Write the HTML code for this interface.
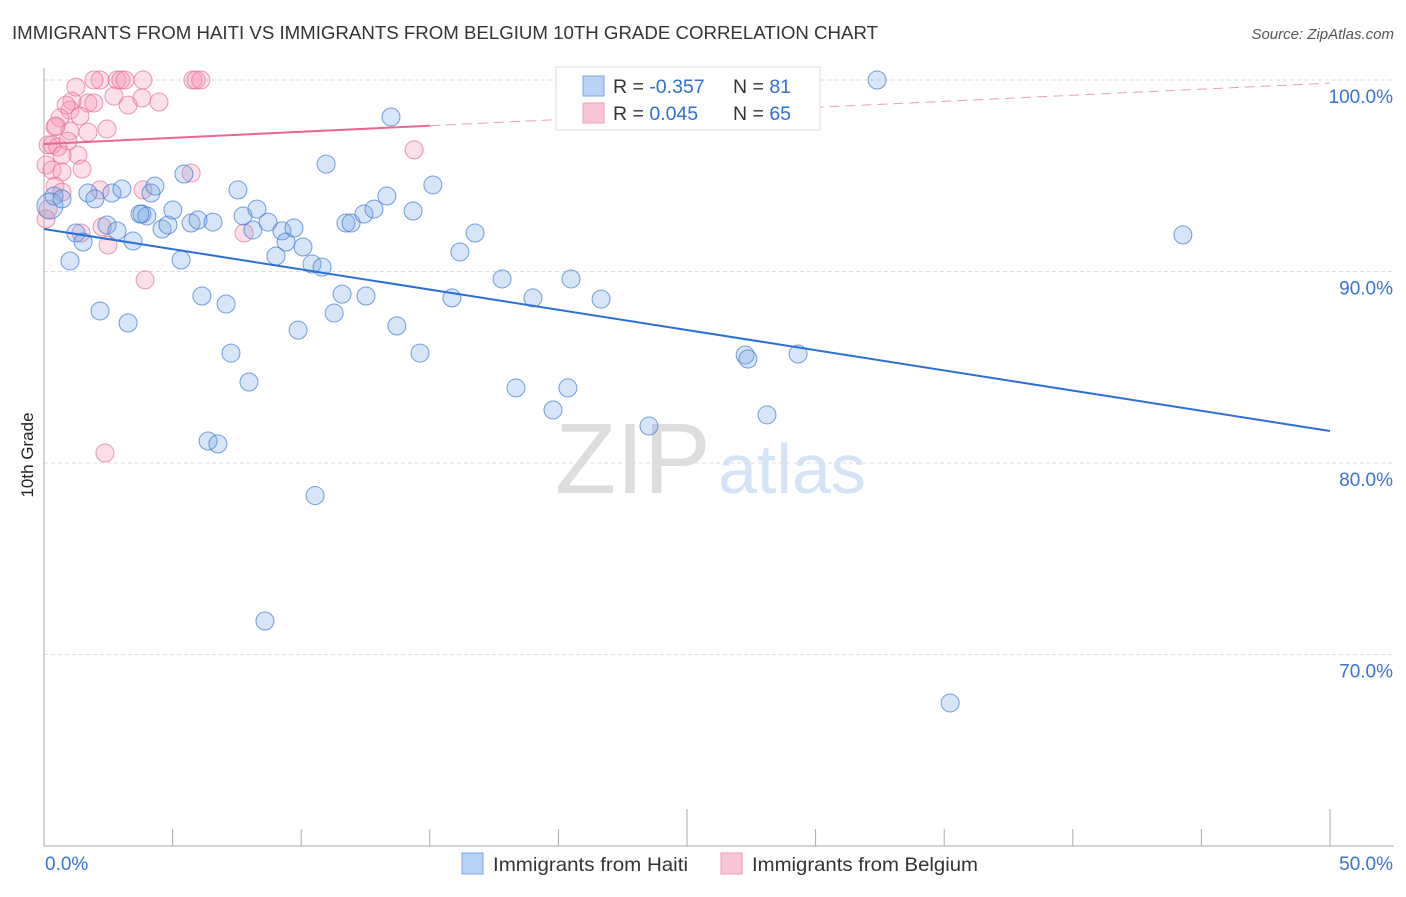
<!DOCTYPE html>
<html><head><meta charset="utf-8"><style>
body{margin:0;background:#fff;font-family:"Liberation Sans",sans-serif}
svg text{font-family:"Liberation Sans",sans-serif}
</style></head><body>
<svg id="c" width="1406" height="892">
<text x="12" y="39" font-size="18" fill="#333" textLength="866" lengthAdjust="spacingAndGlyphs">IMMIGRANTS FROM HAITI VS IMMIGRANTS FROM BELGIUM 10TH GRADE CORRELATION CHART</text>
<text x="1394" y="39" font-size="15" fill="#555" font-style="italic" text-anchor="end">Source: ZipAtlas.com</text>
<text transform="translate(33,455) rotate(-90)" font-size="17" fill="#222" text-anchor="middle">10th Grade</text>
<text x="555" y="493" font-size="100" fill="#ddd" font-family="Liberation Serif">ZIP</text>
<text x="718" y="493" font-size="70" fill="#d4e3f5">atlas</text>
<g id="grid"></g><g id="axes"></g><g id="pts"></g><g id="trend"></g>
<g>
<rect x="556" y="67" width="264" height="63" fill="#fff" stroke="#ddd"/>
<rect x="583" y="76" width="21" height="20" fill="#b8d3f5" stroke="#7aa6e0"/>
<rect x="583" y="103" width="21" height="20" fill="#fac6d6" stroke="#ec9bb5"/>
<text x="613" y="93" font-size="19.5" fill="#333">R = <tspan fill="#2f6fd0">-0.357</tspan></text>
<text x="733" y="93" font-size="19.5" fill="#333">N = <tspan fill="#2f6fd0">81</tspan></text>
<text x="613" y="120" font-size="19.5" fill="#333">R = <tspan fill="#2f6fd0"> 0.045</tspan></text>
<text x="733" y="120" font-size="19.5" fill="#333">N = <tspan fill="#2f6fd0">65</tspan></text>
</g>
<g>
<rect x="462" y="853" width="21" height="21" fill="#b8d3f5" stroke="#7aa6e0"/>
<text x="493" y="871" font-size="19.5" fill="#333" textLength="195" lengthAdjust="spacingAndGlyphs">Immigrants from Haiti</text>
<rect x="721" y="853" width="21" height="21" fill="#fac6d6" stroke="#ec9bb5"/>
<text x="752" y="871" font-size="19.5" fill="#333" textLength="226" lengthAdjust="spacingAndGlyphs">Immigrants from Belgium</text>
</g>
</svg>
<script>
const yTicks=[100,90,80,70];
const yTickLabels=["100.0%","90.0%","80.0%","70.0%"];
const xTickLabels=["0.0%","50.0%"];
const haitiX=[0.39,0.23,0.7,1.01,1.24,1.52,1.71,1.98,2.18,2.45,2.64,2.84,3.03,3.27,3.46,3.81,4.0,4.16,4.31,4.59,4.82,5.01,5.33,5.44,5.72,5.99,6.14,6.38,6.57,6.76,7.08,7.27,7.54,7.74,7.97,8.12,8.28,8.71,9.02,9.25,9.41,9.72,9.88,10.07,10.42,10.54,10.81,10.97,11.28,11.59,11.74,11.94,12.44,12.52,12.83,13.33,13.49,13.72,14.35,14.62,15.12,15.86,16.17,16.76,17.81,18.35,19.01,19.79,20.37,20.49,21.66,23.52,27.26,27.37,28.11,29.32,32.39,35.23,44.28,8.59,3.73];
const haitiY=[93.94,93.42,93.79,90.55,92.01,91.54,94.1,93.79,87.94,92.43,94.1,92.12,94.31,87.31,91.59,93.0,92.9,94.1,94.46,92.22,92.43,93.21,90.6,95.09,92.53,92.69,88.72,81.15,92.58,81.0,88.3,85.74,94.26,92.9,84.23,92.17,93.26,92.58,90.81,92.12,91.54,92.27,86.94,91.28,90.39,78.3,90.23,95.61,87.83,88.82,92.53,92.53,93.0,88.72,93.26,93.94,98.07,87.16,93.16,85.74,94.52,88.62,91.02,92.01,89.61,83.92,88.62,82.77,83.92,89.61,88.56,81.93,85.64,85.43,82.51,85.69,100.0,67.47,91.91,71.75,93.0];
const belgX=[1.09,2.18,2.84,2.99,3.15,3.85,5.79,5.91,6.1,1.94,1.24,1.71,1.94,2.72,3.27,3.81,4.47,2.45,1.01,0.86,0.62,0.43,0.16,0.31,0.54,0.08,0.31,0.7,1.32,1.48,1.01,0.93,1.71,1.40,0.43,0.70,0.16,0.08,2.18,3.85,5.72,7.78,2.49,2.26,1.44,3.93,2.37,14.39,0.70,0.47];
const belgY=[98.9,100.0,100.0,100.0,100.0,100.0,100.0,100.0,100.0,100.0,99.63,98.8,98.8,99.16,98.69,99.06,98.85,97.44,98.43,98.69,98.02,97.55,96.61,96.61,96.5,95.56,95.3,95.2,96.08,95.35,97.34,96.81,97.28,98.12,94.46,94.15,93.26,92.74,94.26,94.26,95.14,92.01,91.38,92.33,92.01,89.56,80.52,96.35,96.08,97.6];
const haitiTrend=[92.22,81.67];
const belgTrend=[96.66,99.84];
const X=v=>44+v*25.72, Y=v=>80+(100-v)*19.15;
const NS="http://www.w3.org/2000/svg";
function mk(tag,attrs,parent){const e=document.createElementNS(NS,tag);for(const k in attrs)e.setAttribute(k,attrs[k]);parent.appendChild(e);return e;}
const grid=document.getElementById('grid'),axes=document.getElementById('axes'),pts=document.getElementById('pts'),tr=document.getElementById('trend');
yTicks.forEach((t,i)=>{
 const l=mk('line',{x1:44,x2:1394,y1:Y(t),y2:Y(t),stroke:'#ddd','stroke-dasharray':'4,3'},grid);
 
 
 const tx=mk('text',{x:1393,y:Y(t)+23,'font-size':19,fill:'#3a74d0','text-anchor':'end'},grid);
 tx.textContent=yTickLabels[i];
 
 
});
const ax=mk('line',{x1:44,x2:44,y1:68,y2:846,stroke:'#aaa'},axes);


const bx=mk('line',{x1:44,x2:1394,y1:846,y2:846,stroke:'#aaa'},axes);


for(let i=0;i<=10;i++){const v=i*5;const tall=(i==5||i==10);
 const t=mk('line',{x1:X(v),x2:X(v),y1:tall?809:829,y2:846,stroke:'#aaa'},axes);
 
 }
[[0,'start'],[50,'end']].forEach((p,i)=>{const t=mk('text',{x:i?1393:45,y:870,'font-size':19,fill:'#3a74d0','text-anchor':p[1]},axes);t.textContent=xTickLabels[i];
 
 });
belgX.forEach((v,i)=>{const c=mk('circle',{cx:X(v),cy:Y(belgY[i]),r:9,fill:'rgba(244,150,180,0.3)',stroke:'rgba(230,110,150,0.7)','stroke-width':1},pts);
 
 });
haitiX.forEach((v,i)=>{const c=mk('circle',{cx:X(v),cy:Y(haitiY[i]),r:i==1?13:9,fill:'rgba(120,170,230,0.3)',stroke:'rgba(60,120,210,0.7)','stroke-width':1},pts);
 
 });
const hl=mk('line',{x1:X(0),y1:Y(haitiTrend[0]),x2:X(50),y2:Y(haitiTrend[1]),stroke:'#2a6fd6','stroke-width':2},tr);


const bv=v=>belgTrend[0]+(belgTrend[1]-belgTrend[0])*v/50;
const bl=mk('line',{x1:X(0),y1:Y(bv(0)),x2:X(15),y2:Y(bv(15)),stroke:'#e8668f','stroke-width':2},tr);


const bd=mk('line',{x1:X(15),y1:Y(bv(15)),x2:X(50),y2:Y(bv(50)),stroke:'#e8a0b8','stroke-width':1,'stroke-dasharray':'10,6'},tr);


</script>
</body></html>
